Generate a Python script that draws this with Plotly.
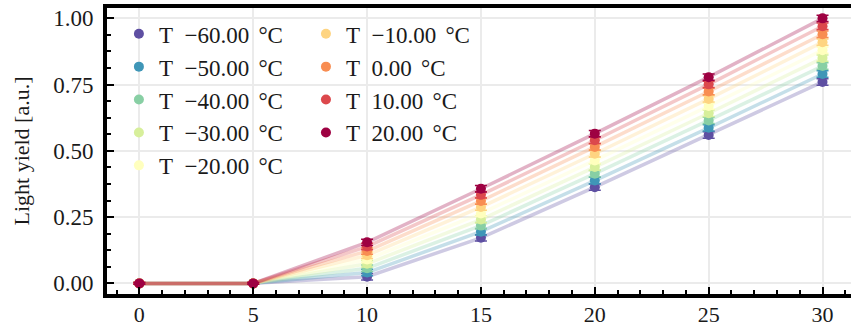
import plotly.graph_objects as go

voltages = [0, 5, 10, 15, 20, 25, 30]
temperatures = [-60, -50, -40, -30, -20, -10, 0, 10, 20]
light_yield = {
    -60: [0, 0, 0.025, 0.172, 0.363, 0.560, 0.760],
    -50: [0, 0, 0.041, 0.195, 0.388, 0.587, 0.790],
    -40: [0, 0, 0.057, 0.218, 0.414, 0.615, 0.820],
    -30: [0, 0, 0.074, 0.241, 0.439, 0.642, 0.850],
    -20: [0, 0, 0.090, 0.264, 0.464, 0.669, 0.880],
    -10: [0, 0, 0.106, 0.288, 0.489, 0.696, 0.910],
    0:   [0, 0, 0.122, 0.311, 0.515, 0.724, 0.940],
    10:  [0, 0, 0.139, 0.334, 0.540, 0.751, 0.970],
    20:  [0, 0, 0.155, 0.357, 0.565, 0.778, 1.000],
}
errors = [0.003, 0.003, 0.012, 0.012, 0.012, 0.012, 0.012]
colors = ["#5e4fa2", "#3f96b7", "#88cfa4", "#d7ef9b", "#ffffbe",
          "#fed481", "#f88d52", "#dc484c", "#9e0142"]

def rgba(h, a):
    h = h.lstrip("#")
    return "rgba(%d,%d,%d,%.2f)" % (int(h[0:2], 16), int(h[2:4], 16), int(h[4:6], 16), a)

FONT = "Liberation Serif"
fig = go.Figure()
for i, t in enumerate(temperatures):
    c = colors[i]
    leg = "legend" if i < 5 else "legend2"
    if t < 0:
        name = "T\u2002\u2212%.2f\u2009\u2009°C" % abs(t)
    else:
        name = "T\u2002%.2f\u2009\u2009°C" % t
    fig.add_trace(go.Scatter(
        x=voltages, y=light_yield[t], mode="lines",
        line=dict(color=rgba(c, 0.3), width=3.5),
        showlegend=False, legendgroup=str(t), legend=leg, hoverinfo="skip"))
    fig.add_trace(go.Scatter(
        x=voltages, y=light_yield[t], mode="markers", name=name,
        marker=dict(color=c, size=10),
        error_y=dict(type="data", array=errors, color=c, thickness=1.5, width=6),
        legendgroup=str(t), legend=leg))

legend_common = dict(font=dict(family=FONT, size=23, color="#1a1a1a"),
                     bgcolor="rgba(0,0,0,0)", traceorder="grouped",
                     tracegroupgap=0, yanchor="top", xanchor="left", itemwidth=30)
fig.update_layout(
    width=851, height=328,
    margin=dict(l=107, r=0, t=8, b=34, autoexpand=False),
    plot_bgcolor="white", paper_bgcolor="white",
    font=dict(family=FONT, size=23, color="#1a1a1a"),
    legend=dict(x=0.016, y=0.985, **legend_common),
    legend2=dict(x=0.2674, y=0.985, **legend_common),
    xaxis=dict(range=[-1.42, 31.25], tickvals=[0, 5, 10, 15, 20, 25, 30],
               automargin=False, ticklabelstandoff=-2,
               showline=True, linecolor="black", linewidth=4, mirror=True,
               ticks="inside", ticklen=7, tickwidth=2, tickcolor="black",
               minor=dict(ticks="inside", ticklen=4, tickwidth=1.5, dtick=1, tickcolor="black", showgrid=False),
               showgrid=True, gridcolor="#ebebeb", gridwidth=2, zeroline=False,
               tickfont=dict(family=FONT, size=22)),
    yaxis=dict(range=[-0.040, 1.039], tickvals=[0, 0.25, 0.5, 0.75, 1.0],
               tickformat=".2f", ticklabelstandoff=5, automargin=False,
               showline=True, linecolor="black", linewidth=4, mirror=False,
               ticks="inside", ticklen=7, tickwidth=2, tickcolor="black",
               minor=dict(ticks="inside", ticklen=4, tickwidth=1.5, dtick=0.0625, tick0=0, tickcolor="black", showgrid=False),
               showgrid=True, gridcolor="#ebebeb", gridwidth=2, zeroline=False,
               title=dict(text="Light yield [a.u.]", font=dict(family=FONT, size=22), standoff=18),
               tickfont=dict(family=FONT, size=23)),
)
fig.write_html("out.html")
